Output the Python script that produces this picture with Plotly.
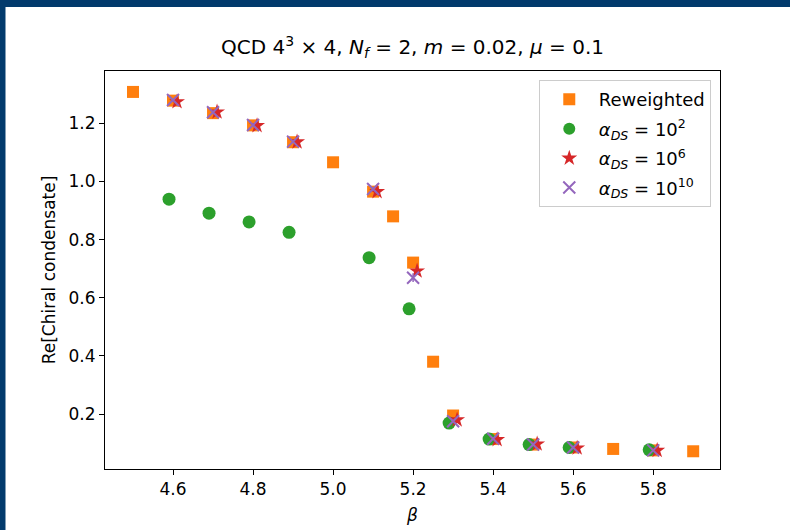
import plotly.graph_objects as go

# ---- data ----
beta_rw = [4.5, 4.6, 4.7, 4.8, 4.9, 5.0, 5.1, 5.15, 5.2, 5.25, 5.3, 5.4, 5.5, 5.6, 5.7, 5.8, 5.9]
cond_rw = [1.308, 1.278, 1.235, 1.193, 1.135, 1.066, 0.965, 0.880, 0.721, 0.380, 0.195, 0.114, 0.095, 0.085, 0.080, 0.075, 0.072]
err_rw = [0.004] * len(beta_rw)

beta_ds = [4.6, 4.7, 4.8, 4.9, 5.1, 5.2, 5.3, 5.4, 5.5, 5.6, 5.8]
cond_ds2 = [0.939, 0.891, 0.861, 0.825, 0.738, 0.562, 0.169, 0.114, 0.095, 0.085, 0.077]
err_ds2 = [0.004, 0.004, 0.004, 0.004, 0.005, 0.012, 0.005, 0.003, 0.003, 0.003, 0.003]
cond_ds6 = [1.274, 1.239, 1.192, 1.136, 0.965, 0.692, 0.180, 0.112, 0.097, 0.083, 0.075]
err_ds6 = [0.004, 0.004, 0.004, 0.004, 0.006, 0.012, 0.005, 0.003, 0.003, 0.003, 0.003]
cond_ds10 = [1.280, 1.238, 1.194, 1.137, 0.974, 0.669, 0.175, 0.115, 0.095, 0.085, 0.075]
err_ds10 = [0.004, 0.004, 0.004, 0.004, 0.006, 0.015, 0.005, 0.003, 0.003, 0.003, 0.003]

x_ticks = [4.6, 4.8, 5.0, 5.2, 5.4, 5.6, 5.8]
y_ticks = [0.2, 0.4, 0.6, 0.8, 1.0, 1.2]
shift = 0.01

FONT = "DejaVu Sans"

fig = go.Figure()

fig.add_trace(go.Scatter(
    x=beta_rw, y=cond_rw, mode="markers", name="Reweighted", legendgroup="a",
    marker=dict(symbol="square", size=12, color="#ff7f0e"),
    error_y=dict(type="data", array=err_rw, color="#ff7f0e", thickness=1.5, width=0),
))
fig.add_trace(go.Scatter(
    x=[b - shift for b in beta_ds], y=cond_ds2, mode="markers", legendgroup="b",
    name="<i>α</i><sub><i>DS</i></sub> = 10<sup>2</sup>",
    marker=dict(symbol="circle", size=13, color="#2ca02c"),
    error_y=dict(type="data", array=err_ds2, color="#2ca02c", thickness=1.5, width=0),
))
fig.add_trace(go.Scatter(
    x=[b + shift for b in beta_ds], y=cond_ds6, mode="markers", legendgroup="c",
    name="<i>α</i><sub><i>DS</i></sub> = 10<sup>6</sup>",
    marker=dict(symbol="star", size=12, color="#d62728"),
    error_y=dict(type="data", array=err_ds6, color="#d62728", thickness=1.5, width=0),
))
fig.add_trace(go.Scatter(
    x=beta_ds, y=cond_ds10, mode="markers", legendgroup="d",
    name="<i>α</i><sub><i>DS</i></sub> = 10<sup>10</sup>",
    marker=dict(symbol="x-thin-open", size=12, color="#9467bd",
                line=dict(color="#9467bd", width=2)),
    error_y=dict(type="data", array=err_ds10, color="#9467bd", thickness=1.5, width=0),
))

axis_common = dict(
    showline=True, mirror=True, linecolor="black", linewidth=1,
    ticks="outside", ticklen=5, tickwidth=1, tickcolor="black",
    showgrid=False, zeroline=False, automargin=False,
    tickfont=dict(family=FONT, size=17, color="black"),
    tickformat=".1f",
)

navy = "#023a6c"

fig.update_layout(
    width=790, height=530,
    margin=dict(l=105, r=70, t=71, b=61),
    paper_bgcolor="white", plot_bgcolor="white",
    font=dict(family=FONT, size=17, color="black"),
    title=dict(
        text="QCD 4<sup>3</sup> × 4, <i>N</i><sub><i>f</i></sub> = 2, <i>m</i> = 0.02, <i>μ</i> = 0.1",
        x=0.5, xref="paper", xanchor="center",
        y=1 - 47 / 530, yref="container", yanchor="middle",
        font=dict(family=FONT, size=20, color="black"),
    ),
    xaxis=dict(axis_common, range=[4.43, 5.967], tickvals=x_ticks,
               title=dict(text="<i>β</i>", font=dict(family=FONT, size=17), standoff=10)),
    yaxis=dict(axis_common, range=[0.011, 1.38], tickvals=y_ticks,
               title=dict(text="Re[Chiral condensate]", font=dict(family=FONT, size=17), standoff=8)),
    legend=dict(
        x=0.985, y=0.977, xanchor="right", yanchor="top",
        bgcolor="rgba(255,255,255,0.8)", bordercolor="#cccccc", borderwidth=1,
        font=dict(family=FONT, size=18, color="black"),
        itemsizing="constant", itemwidth=49, tracegroupgap=3,
    ),
    showlegend=True,
    shapes=[
        dict(type="rect", xref="paper", yref="paper", x0=-0.3, x1=-0.1618, y0=-0.3, y1=1.4,
             fillcolor=navy, line=dict(width=0), layer="above"),
        dict(type="rect", xref="paper", yref="paper", x0=-0.3, x1=1.3, y0=1.1607, y1=1.4,
             fillcolor=navy, line=dict(width=0), layer="above"),
    ],
)

fig.write_html(
    "out.html",
    config={"displayModeBar": False},
    post_script="document.body.style.margin='0';document.body.style.overflow='hidden';",
)
